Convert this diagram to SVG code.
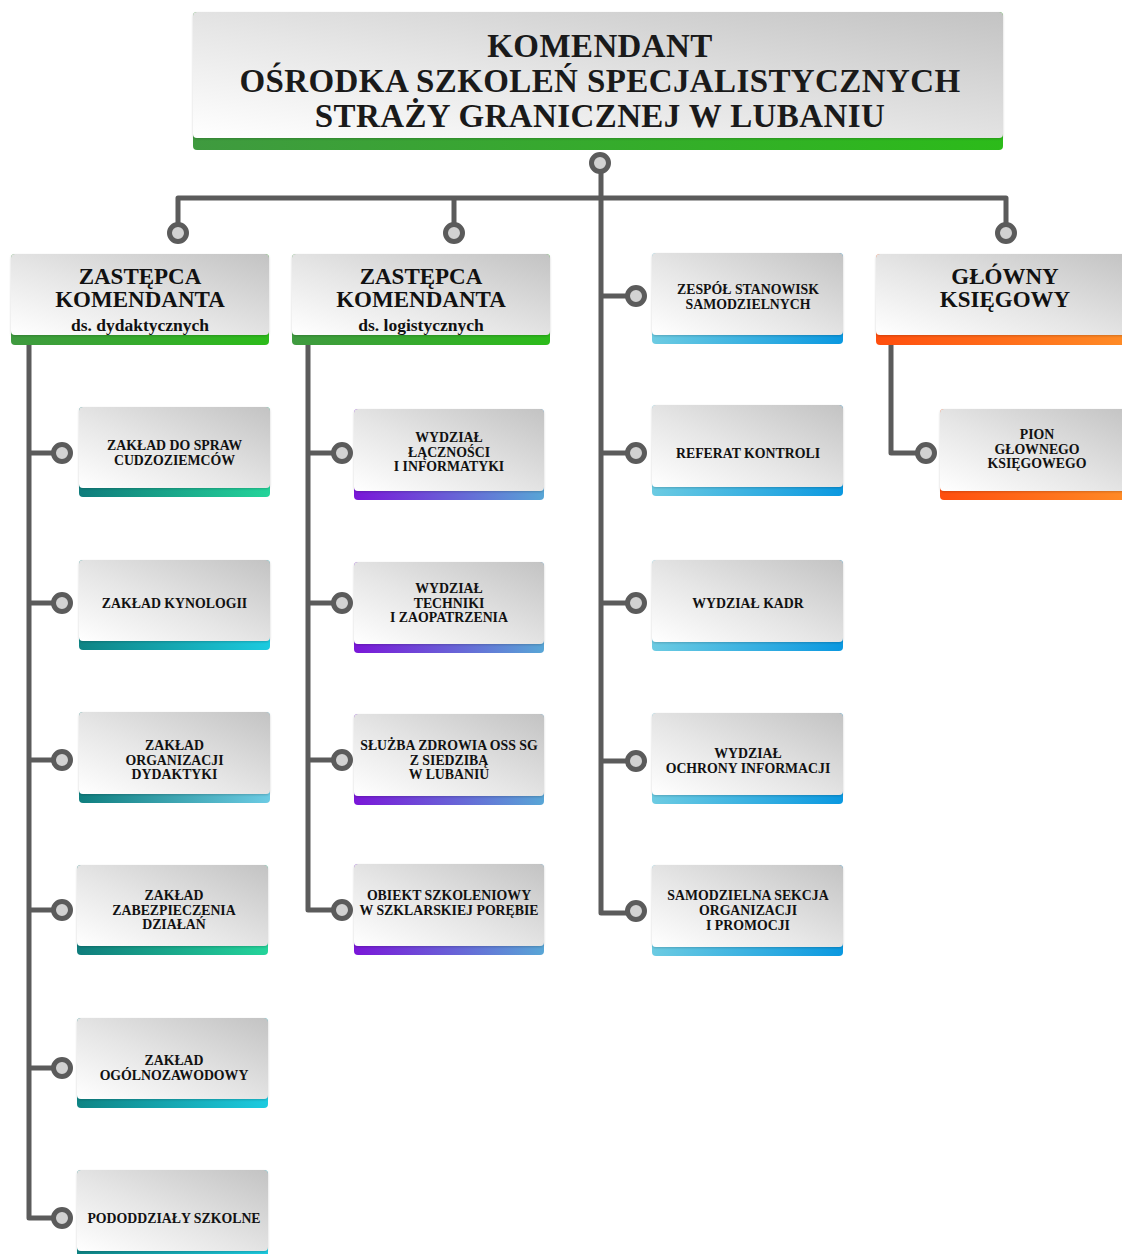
<svg xmlns="http://www.w3.org/2000/svg" width="1122" height="1254" viewBox="0 0 1122 1254">
<style>
.conn{stroke:#5b5b5b;stroke-width:5;fill:none;stroke-linejoin:round}
.dot{fill:#d2d2d2;stroke:#5b5b5b;stroke-width:5}
.box{fill:url(#gBox);filter:url(#sh)}
text{fill:#111;text-anchor:middle}
.t{font-size:33px;letter-spacing:0.4px;font-weight:bold;fill:#1a1a1a}
.d{font-size:23px;font-weight:bold}
.ds{font-size:17.5px;font-weight:bold}
.c{font-size:13.8px;font-weight:bold}
</style>
<defs>
<linearGradient id="gBox" x1="0" y1="1" x2="1" y2="0">
<stop offset="0" stop-color="#ffffff"/><stop offset="0.45" stop-color="#e6e6e6"/><stop offset="1" stop-color="#c3c3c3"/>
</linearGradient>
<linearGradient id="gGreen" x1="0" y1="0" x2="1" y2="0"><stop offset="0" stop-color="#3f9a3f"/><stop offset="1" stop-color="#2cbb1a"/></linearGradient>
<linearGradient id="gT1" x1="0" y1="0" x2="1" y2="0"><stop offset="0" stop-color="#0f7c7c"/><stop offset="1" stop-color="#24d49a"/></linearGradient>
<linearGradient id="gT2" x1="0" y1="0" x2="1" y2="0"><stop offset="0" stop-color="#0e8484"/><stop offset="1" stop-color="#1ccbe0"/></linearGradient>
<linearGradient id="gT3" x1="0" y1="0" x2="1" y2="0"><stop offset="0" stop-color="#0e7e7e"/><stop offset="1" stop-color="#6ccbe4"/></linearGradient>
<linearGradient id="gPur" x1="0" y1="0" x2="1" y2="0"><stop offset="0" stop-color="#7a16d8"/><stop offset="1" stop-color="#58a6d6"/></linearGradient>
<linearGradient id="gBlue" x1="0" y1="0" x2="1" y2="0"><stop offset="0" stop-color="#6ccbe2"/><stop offset="1" stop-color="#0a98e0"/></linearGradient>
<linearGradient id="gOr" x1="0" y1="0" x2="1" y2="0"><stop offset="0" stop-color="#ff4e0e"/><stop offset="1" stop-color="#ff8c26"/></linearGradient>
<filter id="sh" x="-5%" y="-5%" width="110%" height="115%"><feDropShadow dx="0" dy="1" stdDeviation="1.2" flood-color="#000" flood-opacity="0.18"/></filter>
</defs>

<g id="connectors">
<path class="conn" d="M601 163 V913 H636"/>
<path class="conn" d="M178 233 V198 H1006 V233"/>
<path class="conn" d="M454 198 V233"/>
<path class="conn" d="M29 345 V1218 H62"/>
<path class="conn" d="M29 453 H62 M29 603 H62 M29 760 H62 M29 910 H62 M29 1068 H62"/>
<path class="conn" d="M308 345 V910 H342 M308 453 H342 M308 603 H342 M308 760 H342"/>
<path class="conn" d="M601 296 H636 M601 453 H636 M601 603 H636 M601 761 H636"/>
<path class="conn" d="M891 345 V453 H926"/>
</g>

<g id="nodes" font-family="'Liberation Serif', 'Times New Roman', serif">
<g id="komendant">
<rect x="193" y="12" width="810" height="138" rx="4" fill="url(#gGreen)"/>
<rect class="box" x="193" y="12" width="810" height="126" rx="4"/>
<text class="t" x="600" y="57">KOMENDANT</text>
<text class="t" x="600" y="92">OŚRODKA SZKOLEŃ SPECJALISTYCZNYCH</text>
<text class="t" x="600" y="127">STRAŻY GRANICZNEJ W LUBANIU</text>
</g>

<g id="zast-dyd">
<rect x="11" y="254" width="258" height="91" rx="4" fill="url(#gGreen)"/>
<rect class="box" x="11" y="254" width="258" height="81" rx="4"/>
<text class="d" x="140" y="284">ZASTĘPCA</text>
<text class="d" x="140" y="307">KOMENDANTA</text>
<text class="ds" x="140" y="331">ds. dydaktycznych</text>
</g>
<g id="zast-log">
<rect x="292" y="254" width="258" height="91" rx="4" fill="url(#gGreen)"/>
<rect class="box" x="292" y="254" width="258" height="81" rx="4"/>
<text class="d" x="421" y="284">ZASTĘPCA</text>
<text class="d" x="421" y="307">KOMENDANTA</text>
<text class="ds" x="421" y="331">ds. logistycznych</text>
</g>
<g id="glowny">
<rect x="876" y="254" width="252" height="91" rx="4" fill="url(#gOr)"/>
<rect class="box" x="876" y="254" width="252" height="81" rx="4"/>
<text class="d" x="1005" y="284">GŁÓWNY</text>
<text class="d" x="1005" y="307">KSIĘGOWY</text>
</g>

<g id="zaklad-cudzoziemcow">
<rect x="79" y="407" width="191" height="90" rx="4" fill="url(#gT1)"/>
<rect class="box" x="79" y="407" width="191" height="81" rx="4"/>
<text class="c" x="174.5" y="450">ZAKŁAD DO SPRAW</text>
<text class="c" x="174.5" y="465">CUDZOZIEMCÓW</text>
</g>
<g id="zaklad-kynologii">
<rect x="79" y="560" width="191" height="90" rx="4" fill="url(#gT2)"/>
<rect class="box" x="79" y="560" width="191" height="81" rx="4"/>
<text class="c" x="174.5" y="607.6">ZAKŁAD KYNOLOGII</text>
</g>
<g id="zaklad-dydaktyki">
<rect x="79" y="712" width="191" height="91" rx="4" fill="url(#gT3)"/>
<rect class="box" x="79" y="712" width="191" height="82" rx="4"/>
<text class="c" x="174.5" y="749.8">ZAKŁAD</text>
<text class="c" x="174.5" y="764.6">ORGANIZACJI</text>
<text class="c" x="174.5" y="779.4">DYDAKTYKI</text>
</g>
<g id="zaklad-zabezpieczenia">
<rect x="77" y="865" width="191" height="90" rx="4" fill="url(#gT1)"/>
<rect class="box" x="77" y="865" width="191" height="81" rx="4"/>
<text class="c" x="174" y="899.8">ZAKŁAD</text>
<text class="c" x="174" y="914.6">ZABEZPIECZENIA</text>
<text class="c" x="174" y="929.4">DZIAŁAŃ</text>
</g>
<g id="zaklad-ogolnozawodowy">
<rect x="77" y="1018" width="191" height="90" rx="4" fill="url(#gT2)"/>
<rect class="box" x="77" y="1018" width="191" height="81" rx="4"/>
<text class="c" x="174" y="1065.2">ZAKŁAD</text>
<text class="c" x="174" y="1080">OGÓLNOZAWODOWY</text>
</g>
<g id="pododdzialy">
<rect x="77" y="1170" width="191" height="92" rx="4" fill="url(#gT2)"/>
<rect class="box" x="77" y="1170" width="191" height="81" rx="4"/>
<text class="c" x="174" y="1222.6">PODODDZIAŁY SZKOLNE</text>
</g>

<g id="wydzial-lacznosci">
<rect x="354" y="409" width="190" height="91" rx="4" fill="url(#gPur)"/>
<rect class="box" x="354" y="409" width="190" height="82" rx="4"/>
<text class="c" x="449" y="441.8">WYDZIAŁ</text>
<text class="c" x="449" y="456.6">ŁĄCZNOŚCI</text>
<text class="c" x="449" y="471.4">I INFORMATYKI</text>
</g>
<g id="wydzial-techniki">
<rect x="354" y="562" width="190" height="91" rx="4" fill="url(#gPur)"/>
<rect class="box" x="354" y="562" width="190" height="82" rx="4"/>
<text class="c" x="449" y="592.8">WYDZIAŁ</text>
<text class="c" x="449" y="607.6">TECHNIKI</text>
<text class="c" x="449" y="622.4">I ZAOPATRZENIA</text>
</g>
<g id="sluzba-zdrowia">
<rect x="354" y="714" width="190" height="91" rx="4" fill="url(#gPur)"/>
<rect class="box" x="354" y="714" width="190" height="82" rx="4"/>
<text class="c" x="449" y="749.8">SŁUŻBA ZDROWIA OSS SG</text>
<text class="c" x="449" y="764.6">Z SIEDZIBĄ</text>
<text class="c" x="449" y="779.4">W LUBANIU</text>
</g>
<g id="obiekt-szkoleniowy">
<rect x="354" y="864" width="190" height="91" rx="4" fill="url(#gPur)"/>
<rect class="box" x="354" y="864" width="190" height="82" rx="4"/>
<text class="c" x="449" y="900.2">OBIEKT SZKOLENIOWY</text>
<text class="c" x="449" y="915">W SZKLARSKIEJ PORĘBIE</text>
</g>

<g id="zespol-stanowisk">
<rect x="652" y="253" width="191" height="91" rx="4" fill="url(#gBlue)"/>
<rect class="box" x="652" y="253" width="191" height="82" rx="4"/>
<text class="c" x="748" y="294.2">ZESPÓŁ STANOWISK</text>
<text class="c" x="748" y="309">SAMODZIELNYCH</text>
</g>
<g id="referat-kontroli">
<rect x="652" y="405" width="191" height="91" rx="4" fill="url(#gBlue)"/>
<rect class="box" x="652" y="405" width="191" height="82" rx="4"/>
<text class="c" x="748" y="457.6">REFERAT KONTROLI</text>
</g>
<g id="wydzial-kadr">
<rect x="652" y="560" width="191" height="91" rx="4" fill="url(#gBlue)"/>
<rect class="box" x="652" y="560" width="191" height="82" rx="4"/>
<text class="c" x="748" y="607.6">WYDZIAŁ KADR</text>
</g>
<g id="wydzial-ochrony">
<rect x="652" y="713" width="191" height="91" rx="4" fill="url(#gBlue)"/>
<rect class="box" x="652" y="713" width="191" height="82" rx="4"/>
<text class="c" x="748" y="758.2">WYDZIAŁ</text>
<text class="c" x="748" y="773">OCHRONY INFORMACJI</text>
</g>
<g id="sekcja-organizacji">
<rect x="652" y="865" width="191" height="91" rx="4" fill="url(#gBlue)"/>
<rect class="box" x="652" y="865" width="191" height="82" rx="4"/>
<text class="c" x="748" y="900.3">SAMODZIELNA SEKCJA</text>
<text class="c" x="748" y="915.1">ORGANIZACJI</text>
<text class="c" x="748" y="929.9">I PROMOCJI</text>
</g>

<g id="pion-ksiegowego">
<rect x="940" y="409" width="190" height="91" rx="4" fill="url(#gOr)"/>
<rect class="box" x="940" y="409" width="190" height="82" rx="4"/>
<text class="c" x="1037" y="438.8">PION</text>
<text class="c" x="1037" y="453.6">GŁOWNEGO</text>
<text class="c" x="1037" y="468.4">KSIĘGOWEGO</text>
</g>
</g>

<g id="dots">
<circle class="dot" cx="600" cy="163" r="8.5"/>
<circle class="dot" cx="178" cy="233" r="8.5"/>
<circle class="dot" cx="454" cy="233" r="8.5"/>
<circle class="dot" cx="1006" cy="233" r="8.5"/>
<circle class="dot" cx="62" cy="453" r="8.5"/>
<circle class="dot" cx="62" cy="603" r="8.5"/>
<circle class="dot" cx="62" cy="760" r="8.5"/>
<circle class="dot" cx="62" cy="910" r="8.5"/>
<circle class="dot" cx="62" cy="1068" r="8.5"/>
<circle class="dot" cx="62" cy="1218" r="8.5"/>
<circle class="dot" cx="342" cy="453" r="8.5"/>
<circle class="dot" cx="342" cy="603" r="8.5"/>
<circle class="dot" cx="342" cy="760" r="8.5"/>
<circle class="dot" cx="342" cy="910" r="8.5"/>
<circle class="dot" cx="636" cy="296" r="8.5"/>
<circle class="dot" cx="636" cy="453" r="8.5"/>
<circle class="dot" cx="636" cy="603" r="8.5"/>
<circle class="dot" cx="636" cy="761" r="8.5"/>
<circle class="dot" cx="636" cy="911" r="8.5"/>
<circle class="dot" cx="926" cy="453" r="8.5"/>
</g>
</svg>
